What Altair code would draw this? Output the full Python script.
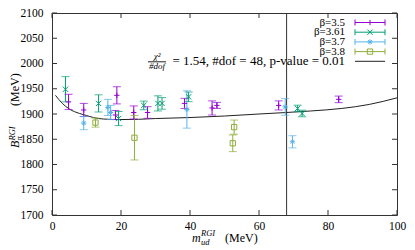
import altair as alt
import pandas as pd

# ---- data ----
series_names = ["β=3.5", "β=3.61", "β=3.7", "β=3.8"]
series_colors = ["#9400d3", "#009e73", "#56b4e9", "#8fae3a"]

m35 = [4.8, 9.2, 18.4, 18.8, 23.7, 27.7, 38.4, 46.4, 47.8, 65.7, 83.1]
B35 = [1924, 1908, 1898, 1937, 1903, 1903, 1921, 1912, 1917, 1917, 1929]
e35 = [15, 13, 9, 17, 13, 11.5, 10, 14, 6, 9, 6.5]

m361 = [3.9, 13.5, 19.3, 26.6, 30.7, 31.9, 39.6, 71.2, 72.5]
B361 = [1949, 1921, 1891, 1917, 1921, 1921, 1934, 1911, 1901]
e361 = [25, 17, 14, 8.5, 15, 11.5, 9.5, 6.5, 6.5]

m37 = [9.2, 16.2, 17.0, 39.1, 67.6, 69.7]
B37 = [1882, 1913, 1903, 1909, 1914, 1845]
e37 = [13, 16, 14, 37, 16.5, 12]

m38 = [12.6, 23.9, 52.4, 52.8]
B38 = [1883, 1853, 1842, 1874]
e38 = [9, 44, 16.5, 14]

fit_m = [1, 3, 5, 8, 10, 12, 15, 20, 25, 30, 40, 50, 60, 68, 75, 84, 92, 100]
fit_B = [1937, 1921, 1910, 1901, 1897, 1893, 1890, 1889, 1889.5, 1891, 1893, 1896,
         1900, 1903, 1906, 1911, 1919, 1932]

vline_m = [68]
x_ticks = [0, 20, 40, 60, 80, 100]
y_ticks = [1700, 1750, 1800, 1850, 1900, 1950, 2000, 2050, 2100]

fit_text = "= 1.54, #dof = 48, p-value = 0.01"

# ---- build tables ----
rows = []
for name, ms, Bs, es in zip(series_names, [m35, m361, m37, m38], [B35, B361, B37, B38], [e35, e361, e37, e38]):
    for m, b, e in zip(ms, Bs, es):
        rows.append({"series": name, "m": m, "B": b, "lo": b - e, "hi": b + e})
df = pd.DataFrame(rows)
fit_df = pd.DataFrame({"m": fit_m, "B": fit_B})
vl_df = pd.DataFrame({"m": vline_m})
xt_df = pd.DataFrame({"m": x_ticks})
yt_df = pd.DataFrame({"B": y_ticks})
one = pd.DataFrame({"a": [0]})

W, H = 345, 202
FONT = "'Liberation Serif', 'Times New Roman', serif"
xscale = alt.Scale(domain=[0, 100], nice=False, zero=False)
yscale = alt.Scale(domain=[1700, 2100], nice=False, zero=False)
xaxis = alt.Axis(values=x_ticks, format="d", labelPadding=5, title=None, grid=False, domain=False, ticks=False,
                 labelFont=FONT, labelFontSize=11.5, labelColor="black", labelFlush=False, labelOverlap=False)
yaxis = alt.Axis(values=y_ticks, format="d", labelPadding=9, title=None, grid=False, domain=False, ticks=False,
                 labelFont=FONT, labelFontSize=11.5, labelColor="black", labelFlush=False, labelOverlap=False)


def X(field="m"):
    return alt.X(f"{field}:Q", scale=xscale, axis=xaxis, title=None)


def Y(field="B"):
    return alt.Y(f"{field}:Q", scale=yscale, axis=yaxis, title=None)


shapes = ["M-1,0L1,0M0,-1L0,1",
          "M-1,-1L1,1M-1,1L1,-1",
          "M-1,0L1,0M0,-1L0,1M-0.7,-0.7L0.7,0.7M-0.7,0.7L0.7,-0.7",
          "square"]

color = alt.Color("series:N", scale=alt.Scale(domain=series_names, range=series_colors), legend=None)

base = alt.Chart(df)
err_rule = base.mark_rule(strokeWidth=1).encode(x=X(), y=Y("lo"), y2="hi:Q", color=color)
cap_lo = base.mark_tick(orient="horizontal", size=8, thickness=1).encode(x=X(), y=Y("lo"), color=color)
cap_hi = base.mark_tick(orient="horizontal", size=8, thickness=1).encode(x=X(), y=Y("hi"), color=color)
pts = base.mark_point(filled=False, strokeWidth=1, size=28, opacity=1).encode(
    x=X(), y=Y("B"), color=color,
    shape=alt.Shape("series:N", scale=alt.Scale(domain=series_names, range=shapes), legend=None))

fit_line = alt.Chart(fit_df).mark_line(color="#222", strokeWidth=1, interpolate="monotone").encode(
    x=X(), y=Y())
vline = alt.Chart(vl_df).mark_rule(color="#333", strokeWidth=1).encode(x=X())

tick_col = "#333"
xt_bot = alt.Chart(xt_df).mark_rule(color=tick_col).encode(x=X(), y=alt.value(H), y2=alt.value(H - 5))
xt_top = alt.Chart(xt_df).mark_rule(color=tick_col).encode(x=X(), y=alt.value(0), y2=alt.value(5))
yt_l = alt.Chart(yt_df).mark_rule(color=tick_col).encode(y=Y(), x=alt.value(0), x2=alt.value(5))
yt_r = alt.Chart(yt_df).mark_rule(color=tick_col).encode(y=Y(), x=alt.value(W), x2=alt.value(W - 5))

layers = [vline, fit_line, err_rule, cap_lo, cap_hi, pts, xt_bot, xt_top, yt_l, yt_r]


def txt(s, x, y, size=12, align="left", baseline="alphabetic", style="normal", angle=0, col="black"):
    kw = dict(align=align, baseline=baseline, font=FONT, fontSize=size, fontStyle=style, color=col)
    if angle:
        kw["angle"] = angle
    return alt.Chart(pd.DataFrame({"s": [s]})).mark_text(**kw).encode(
        text="s:N", x=alt.value(x), y=alt.value(y))


def hline(x1, x2, y, col):
    return alt.Chart(one).mark_rule(color=col, strokeWidth=1).encode(
        x=alt.value(x1), x2=alt.value(x2), y=alt.value(y))


def vseg(x, y1, y2, col):
    return alt.Chart(one).mark_rule(color=col, strokeWidth=1).encode(
        x=alt.value(x), y=alt.value(y1), y2=alt.value(y2))


# ---- key (gnuplot style: label then sample) ----
LX, S1, S2 = 293, 303, 333
for i, (name, col, shp) in enumerate(zip(series_names, series_colors, shapes)):
    yy = 9.5 + 9.7 * i
    layers.append(txt(name, LX, yy, size=11, align="right", baseline="middle"))
    layers.append(hline(S1, S2, yy, col))
    layers.append(vseg(S1, yy - 3, yy + 3, col))
    layers.append(vseg(S2, yy - 3, yy + 3, col))
    layers.append(alt.Chart(one).mark_point(shape=shp, color=col, filled=False, size=28, strokeWidth=1, opacity=1).encode(
        x=alt.value((S1 + S2) / 2), y=alt.value(yy)))

yfit = 9.5 + 9.7 * 4
layers.append(txt(fit_text, LX, yfit, size=13, align="right", baseline="middle"))
layers.append(hline(S1, S2, yfit, "#222"))
fx = 96
layers.append(txt("χ²", fx + 9, yfit - 2.5, size=9, align="center", style="italic"))
layers.append(txt("#dof", fx + 9, yfit + 7.5, size=9, align="center", style="italic"))
layers.append(hline(fx, fx + 18, yfit + 0.5, "#222"))

# ---- axis titles ----
layers.append(txt("m", 140, 229, size=12, style="italic"))
layers.append(txt("ud", 149, 232, size=8.5, style="italic"))
layers.append(txt("RGI", 149, 223, size=8.5, style="italic"))
layers.append(txt("(MeV)", 173, 229, size=12))

layers.append(txt("B", -33, 135, size=12, style="italic", angle=270))
layers.append(txt("π", -30, 127.5, size=8.5, style="italic", angle=270))
layers.append(txt("RGI", -37.5, 127.5, size=8.5, style="italic", angle=270))
layers.append(txt("(MeV)", -33, 93, size=12, angle=270))

chart = alt.layer(*layers).properties(
    width=W, height=H,
    padding={"left": 44, "top": 5, "right": 10, "bottom": 34},
    autosize="none",
).configure_view(stroke="#333", strokeWidth=1)

chart.save("out.html", embed_options={"renderer": "svg", "actions": False})
